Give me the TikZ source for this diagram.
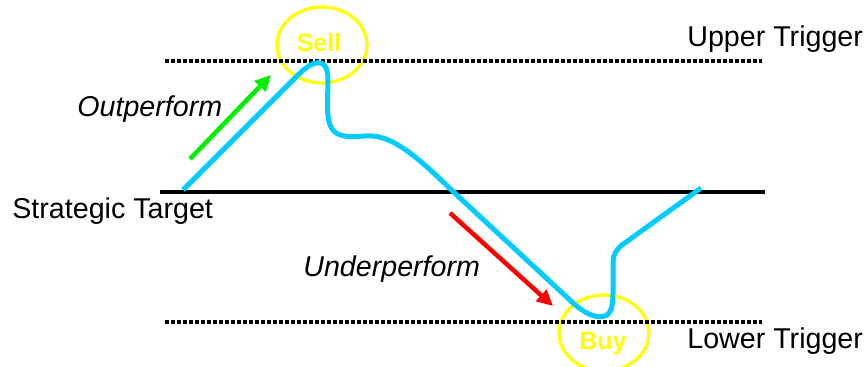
\documentclass[tikz,border=0pt]{standalone}
\usepackage{fontspec}
\setmainfont{Liberation Sans}
\usepackage{tikz}
\usetikzlibrary{arrows.meta, shapes.geometric}
\definecolor{trendblue}{RGB}{0, 204, 255}
\definecolor{ringyellow}{RGB}{255, 255, 0}
\definecolor{upgreen}{RGB}{0, 240, 0}

\begin{document}
\begin{tikzpicture}[
    x=0.02cm, y=-0.02cm,
    lbl/.style={inner sep=0, anchor=base west, font=\fontsize{16.3}{19}\selectfont},
    movelbl/.style={lbl, font=\fontsize{16.3}{19}\selectfont\itshape},
    ring/.style={ellipse, draw=ringyellow, line width=0.065cm, minimum width=1.8cm, minimum height=1.52cm, inner sep=0},
    tag/.style={inner sep=0, anchor=base, text=ringyellow, font=\fontsize{14.2}{17}\selectfont\bfseries},
    trig/.style={line width=0.075cm, dash pattern=on 0.075cm off 0.045cm},
    target/.style={line width=0.08cm},
    arr/.style={-{Triangle[length=0.32cm, width=0.3cm]}, line width=0.09cm},
    trend/.style={draw=trendblue, line width=0.1cm, line join=round}
]
    \useasboundingbox (0,0) rectangle (866,367);

    % signal rings
    \node[ring] (sellring) at (322,45) {};
    \node[ring] (buyring) at (604,333) {};
    \node[tag] (sell) at (319,52) {Sell};
    \node[tag] (buy) at (603,350) {Buy};

    % trigger and target levels
    \coordinate (upl) at (165,61);
    \coordinate (upr) at (762,61);
    \coordinate (lowl) at (165,322);
    \coordinate (lowr) at (762,322);
    \coordinate (tgtl) at (160,192);
    \coordinate (tgtr) at (765,192);
    \draw[trig] (upl) -- (upr);
    \draw[trig] (lowl) -- (lowr);
    \draw[target] (tgtl) -- (tgtr);

    \node[lbl] (upper) at (687,47) {Upper Trigger};
    \node[lbl] (lower) at (687,349) {Lower Trigger};
    \node[lbl] (strategic) at (12,219) {Strategic Target};
    \node[movelbl] (outperf) at (77,117) {Outperform};
    \node[movelbl] (underperf) at (303,277) {Underperform};

    % direction arrows
    \coordinate (gstart) at (190,159);
    \coordinate (gend) at (271,75);
    \coordinate (rstart) at (450,213);
    \coordinate (rend) at (553,306);
    \draw[arr, upgreen] (gstart) -- (gend);
    \draw[arr, red] (rstart) -- (rend);

    % relative performance
    \draw[trend] (183,190) -- (298,75)
        .. controls (312,61) and (327,55) .. (328,78)
        .. controls (328,95) and (326,115) .. (330,125)
        .. controls (334,136) and (345,138) .. (365,136)
        .. controls (395,133) and (425,165) .. (460,198)
        -- (572,302)
        .. controls (585,314) and (598,320) .. (607,315)
        .. controls (614,310) and (613,295) .. (613,280)
        -- (613,262)
        .. controls (613,255) and (616,250) .. (622,245)
        -- (701,188);
\end{tikzpicture}
\end{document}
